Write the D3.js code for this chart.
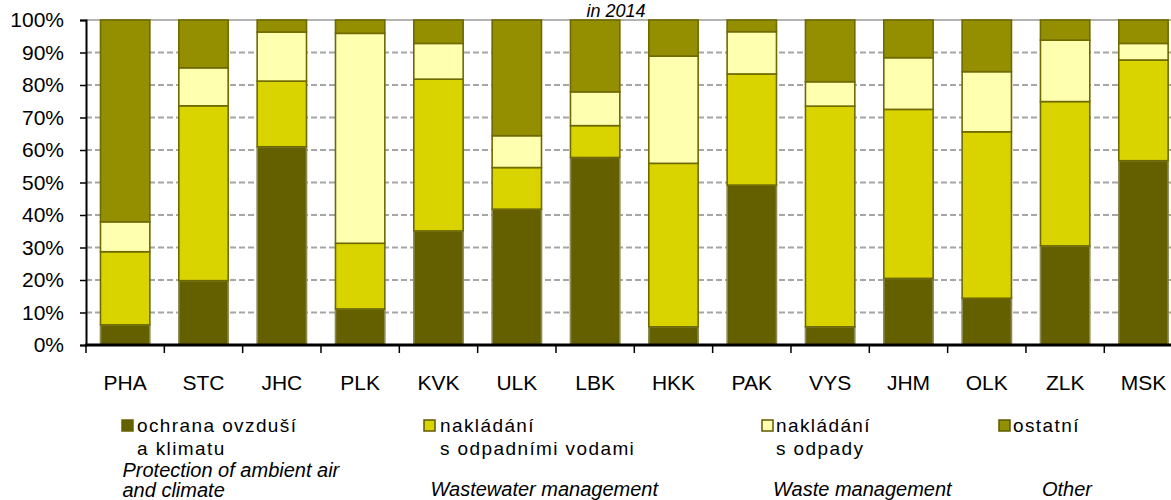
<!DOCTYPE html>
<html>
<head>
<meta charset="utf-8">
<script src="https://cdn.jsdelivr.net/npm/d3@7"></script>
<style>
  html, body { margin: 0; padding: 0; background: #fff; }
  svg { display: block; font-family: "Liberation Sans", Arial, sans-serif; }
</style>
</head>
<body>
<svg id="chart" width="1171" height="500"></svg>
<script>
const categories = ["PHA","STC","JHC","PLK","KVK","ULK","LBK","HKK","PAK","VYS","JHM","OLK","ZLK","MSK"];
const airClimate = [6.2, 19.8, 61.0, 11.1, 35.1, 41.8, 57.7, 5.6, 49.2, 5.6, 20.5, 14.4, 30.5, 56.7];
const wastewater = [22.5, 53.8, 20.2, 20.2, 46.7, 12.8, 9.8, 50.3, 34.2, 67.9, 52.0, 51.2, 44.4, 31.0];
const waste      = [9.2, 11.7, 15.1, 64.6, 11.0, 9.8, 10.4, 33.0, 13.0, 7.5, 15.9, 18.5, 18.9, 5.1];
const other      = [62.1, 14.7, 3.7, 4.1, 7.2, 35.6, 22.1, 11.1, 3.6, 19.0, 11.6, 15.9, 6.2, 7.2];
const yTicks = [0,10,20,30,40,50,60,70,80,90,100];
const seriesKeys = ["air","wastewater","waste","other"];
const legendCz = [["ochrana ovzduší","a klimatu"],["nakládání","s odpadními vodami"],["nakládání","s odpady"],["ostatní"]];
const legendEn = [["Protection of ambient air","and  climate"],["Wastewater management"],["Waste management"],["Other"]];
const titleText = "in 2014";

const colors = {air:"#646000", wastewater:"#d9d300", waste:"#ffffb0", other:"#938f00"};
const strokes = {air:"#8c8a55", wastewater:"#6e6a00", waste:"#6e6a00", other:"#6e6a00"};

const rows = categories.map((c,i)=>({cat:c, air:airClimate[i], wastewater:wastewater[i], waste:waste[i], other:other[i]}));

const svg = d3.select("#chart");
const plotLeft = 86, plotTop = 20, plotBottom = 345, stepW = 78.33;
const plotRight = plotLeft + stepW*categories.length;

const x = d3.scaleBand().domain(categories).range([plotLeft, plotRight]).paddingInner(0.37).paddingOuter(0.185);
const y = d3.scaleLinear().domain([0,100]).range([plotBottom, plotTop]);

// title (sits just above the plot)
svg.append("text").attr("x", 616).attr("y", 17).attr("text-anchor","middle")
  .attr("font-size", 18).attr("font-style","italic").attr("fill","#000").text(titleText);

// gridlines
svg.append("g").selectAll("line").data(yTicks.filter(t=>t>0)).join("line")
  .attr("x1", plotLeft).attr("x2", 1171)
  .attr("y1", d=>y(d)).attr("y2", d=>y(d))
  .attr("stroke", d=> d===100 ? "#b4b4b4" : "#a6a6a6")
  .attr("stroke-width", 2)
  .attr("stroke-dasharray", d=> d===100 ? null : "6,3");

// bars
const stack = d3.stack().keys(seriesKeys)(rows);
svg.append("g").selectAll("g").data(stack).join("g")
  .attr("fill", d=>colors[d.key]).attr("stroke", d=>strokes[d.key]).attr("stroke-width", 1.6)
  .selectAll("rect").data(d=>d).join("rect")
  .attr("x", d=>x(d.data.cat))
  .attr("width", x.bandwidth())
  .attr("y", d=>y(Math.min(100,d[1])))
  .attr("height", d=>y(d[0]) - y(Math.min(100,d[1])));

// y axis
const yAxis = svg.append("g").attr("transform", `translate(${plotLeft},0)`)
  .call(d3.axisLeft(y).tickValues(yTicks).tickFormat(d=>d+"%").tickSize(6).tickPadding(16));
yAxis.select(".domain").attr("stroke","#000").attr("stroke-width",2);
yAxis.selectAll(".tick line").attr("stroke","#000").attr("stroke-width",1.5);
yAxis.selectAll(".tick text").attr("font-size",21).attr("fill","#000")
  .attr("font-family","Liberation Sans, Arial, sans-serif");

// x axis
const xAxis = svg.append("g").attr("transform", `translate(0,${plotBottom})`)
  .call(d3.axisBottom(x).tickSize(0).tickPadding(45));
xAxis.select(".domain").remove();
xAxis.selectAll(".tick text").attr("font-size",21).attr("fill","#000")
  .attr("font-family","Liberation Sans, Arial, sans-serif").attr("dy","0");
svg.append("line").attr("x1", plotLeft-1).attr("x2", 1171).attr("y1", plotBottom).attr("y2", plotBottom)
  .attr("stroke","#000").attr("stroke-width",3);
const gap = x.step() - x.bandwidth();
svg.append("g").selectAll("line").data(categories).join("line")
  .attr("x1", d=>x(d)-gap/2).attr("x2", d=>x(d)-gap/2)
  .attr("y1", plotBottom).attr("y2", plotBottom+8)
  .attr("stroke","#000").attr("stroke-width",1.5);

// legend
const legX = [122, 424, 762, 999];
const czX = [137, 440, 776, 1013];
const enX = [122.5, 430.5, 773, 1042];
const lg = svg.append("g");
seriesKeys.forEach((k,i)=>{
  lg.append("rect").attr("x", legX[i]).attr("y", 420).attr("width", 11).attr("height", 11)
    .attr("fill", colors[k]).attr("stroke", i===0 ? colors[k] : "#5e5a00").attr("stroke-width", 1.5);
  legendCz[i].forEach((t,j)=>{
    lg.append("text").attr("x", czX[i]).attr("y", 432 + j*23)
      .attr("font-size", 19).attr("letter-spacing", 1.4).attr("fill","#000").text(t);
  });
  legendEn[i].forEach((t,j)=>{
    const yy = legendEn[i].length === 2 ? 477 + j*20 : 496;
    lg.append("text").attr("x", enX[i]).attr("y", yy)
      .attr("font-size", 20).attr("font-style","italic").attr("fill","#000").text(t);
  });
});
</script>
</body>
</html>
